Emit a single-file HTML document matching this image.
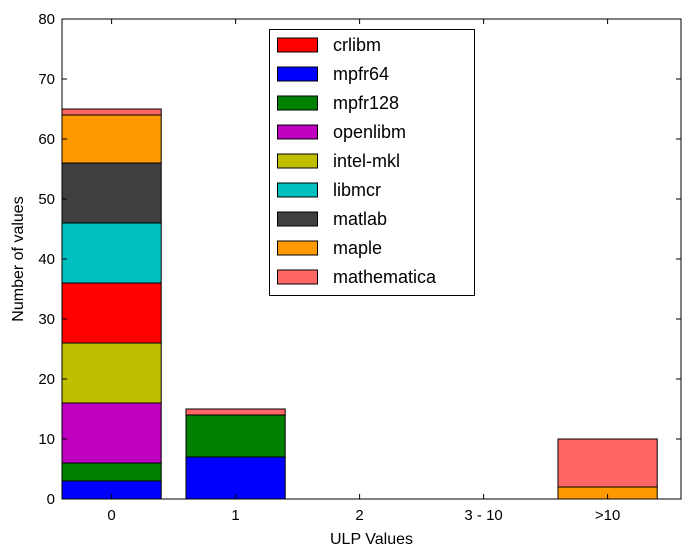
<!DOCTYPE html>
<html><head><meta charset="utf-8"><style>body{margin:0;background:#fff}svg{display:block;font-family:"Liberation Sans",sans-serif}</style></head>
<body>
<svg id="c" width="691" height="557"></svg>
<script>
const categories=["0","1","2","3 - 10",">10"];
const seriesNames=["mpfr64","mpfr128","openlibm","intel-mkl","crlibm","libmcr","matlab","maple","mathematica"];
const mpfr64=[3,7,0,0,0];
const mpfr128=[3,7,0,0,0];
const openlibm=[10,0,0,0,0];
const intelmkl=[10,0,0,0,0];
const crlibm=[10,0,0,0,0];
const libmcr=[10,0,0,0,0];
const matlab=[10,0,0,0,0];
const maple=[8,0,0,0,2];
const mathematica=[1,1,0,0,8];
const yTicks=[0,10,20,30,40,50,60,70,80];
const legendOrder=["crlibm","mpfr64","mpfr128","openlibm","intel-mkl","libmcr","matlab","maple","mathematica"];
const colors={"crlibm":"#ff0000","mpfr64":"#0000ff","mpfr128":"#008000","openlibm":"#bf00bf","intel-mkl":"#bfbf00","libmcr":"#00bfbf","matlab":"#404040","maple":"#ff9900","mathematica":"#ff6666"};
const values={"mpfr64":mpfr64,"mpfr128":mpfr128,"openlibm":openlibm,"intel-mkl":intelmkl,"crlibm":crlibm,"libmcr":libmcr,"matlab":matlab,"maple":maple,"mathematica":mathematica};
const L=62,R=681,T=19,B=499,step=124;
const y=v=>B-(v-0)/(80-0)*(B-T);
const x=i=>L+i*step;
const svg=document.getElementById('c');const NS="http://www.w3.org/2000/svg";
function mk(t,a,p){const e=document.createElementNS(NS,t);for(const k in a)e.setAttribute(k,a[k]);(p||svg).appendChild(e);return e;}
categories.forEach((c,i)=>{let base=0;seriesNames.forEach(s=>{const v=values[s][i];
let r;
if(v===0){r=mk('line',{x1:x(i),x2:x(i)+0.8*step,y1:y(base),y2:y(base),stroke:'#000','stroke-width':1});}
else{r=mk('rect',{x:x(i),y:y(base+v),width:0.8*step,height:y(base)-y(base+v),fill:colors[s],stroke:'#000','stroke-width':1});}


base+=v;});
const t=mk('text',{x:x(i)+0.4*step,y:B+21,'text-anchor':'middle','font-size':15});t.textContent=c;


mk('line',{x1:x(i)+0.4*step,x2:x(i)+0.4*step,y1:B,y2:B-5,stroke:'#000'});
mk('line',{x1:x(i)+0.4*step,x2:x(i)+0.4*step,y1:T,y2:T+5,stroke:'#000'});
});
yTicks.forEach(v=>{const t=mk('text',{x:L-7,y:y(v)+5,'text-anchor':'end','font-size':15});t.textContent=v;


mk('line',{x1:L,x2:L+5,y1:y(v),y2:y(v),stroke:'#000'});mk('line',{x1:R,x2:R-5,y1:y(v),y2:y(v),stroke:'#000'});});
const fr=mk('rect',{x:L,y:T,width:R-L,height:B-T,fill:'none',stroke:'#000','stroke-width':1});


const xl=mk('text',{x:(L+R)/2,y:544,'text-anchor':'middle','font-size':16});xl.textContent="ULP Values";


const yl=mk('text',{x:23,y:(T+B)/2,'text-anchor':'middle','font-size':16,transform:'rotate(-90 23 '+(T+B)/2+')'});yl.textContent="Number of values";


const lg=mk('g',{});


mk('rect',{x:269.5,y:29.5,width:205,height:266,fill:'#fff',stroke:'#000'},lg);
legendOrder.forEach((s,k)=>{const cy=45+k*29;
const g=mk('g',{},lg);


mk('rect',{x:277.5,y:cy-7,width:40,height:14,fill:colors[s],stroke:'#000'},g);
const t=mk('text',{x:333,y:cy+6,'font-size':18},g);t.textContent=s;});
</script>
</body></html>
